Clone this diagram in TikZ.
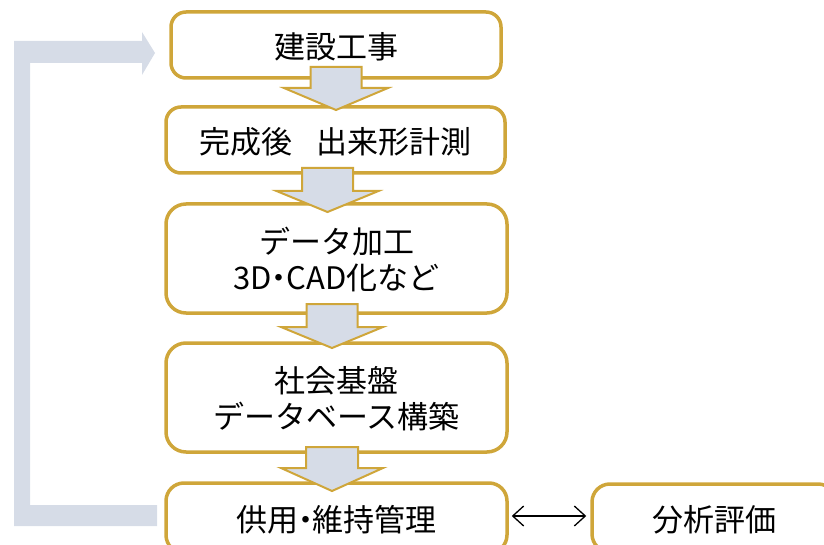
\documentclass[tikz,border=0pt]{standalone}
\usepackage{fontspec}
\newfontfamily\jp{Noto Sans CJK JP}
\usetikzlibrary{arrows.meta,calc}
\definecolor{gold}{RGB}{207,166,58}
\definecolor{pale}{RGB}{214,220,231}
\newcommand\blockarrow[6]{%
  \draw[blk] ({#1-#5},#2) -- ({#1+#5},#2) -- ({#1+#5},#3) -- ({#1+#6},#3) -- (#1,#4) -- ({#1-#6},#3) -- ({#1-#5},#3) -- cycle;}
\newcommand\ndot{\hspace{-0.27em}・\hspace{-0.27em}}
\begin{document}
\begin{tikzpicture}[x=1pt,y=-1pt,
  box/.style={draw=gold, line width=3.5pt, rounded corners=15pt, fill=white, align=center,
    font=\jp\fontsize{31}{36}\selectfont, inner sep=0pt, text depth=0pt},
  bigbox/.style={box, rounded corners=20pt},
  blk/.style={fill=pale, draw=gold, line width=2pt, line join=miter},
  dbl/.style={{Straight Barb[length=11pt,width=20pt]}-{Straight Barb[length=11pt,width=20pt]}, line width=1.3pt, black}]
\useasboundingbox (0,0) rectangle (824,545);
\clip (0,0) rectangle (824,545);
% feedback arrow
\fill[pale] (14,526) -- (157,526) -- (157,505) -- (30,505) -- (30,63) -- (142,63) -- (142,75) -- (155,53) -- (142,32) -- (142,41) -- (14,41) -- cycle;
% boxes
\node[box, minimum width=330pt, minimum height=66pt] (b1) at (336,45) {建設工事};
\node[box, minimum width=339pt, minimum height=66pt] (b2) at (335.5,140) {完成後\hspace{0.75em}出来形計測};
\node[bigbox, minimum width=341pt, minimum height=109pt] (b3) at (336.5,258.5) {データ加工\\3D\ndot CAD化など};
\node[bigbox, minimum width=341pt, minimum height=109pt] (b4) at (336.5,397.5) {社会基盤\\データベース構築};
\node[box, rounded corners=18pt, minimum width=341pt, minimum height=70pt] (b5) at (336.5,518) {供用\ndot 維持管理};
\node[box, rounded corners=18pt, minimum width=244pt, minimum height=68pt] (b6) at (714,518) {分析評価};
% block arrows
\blockarrow{336}{67}{88}{110}{25.5}{52}
\blockarrow{327.5}{168}{191}{212}{25.5}{51}
\blockarrow{332}{304}{327}{348}{25.5}{51}
\blockarrow{332}{447}{468}{491}{26}{51}
% double arrow
\draw[dbl] ($(b5.east)+(3,-2)$) -- ($(b6.west)+(-4,-2)$);
\end{tikzpicture}
\end{document}
